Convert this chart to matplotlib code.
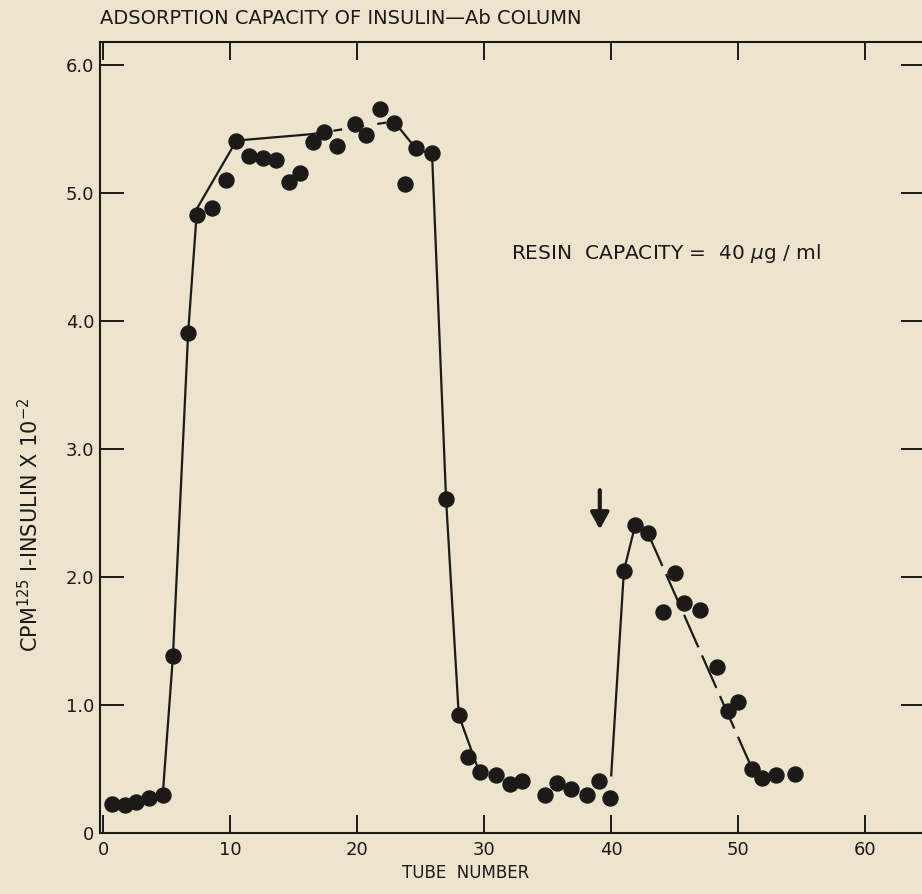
import numpy as np
import matplotlib
matplotlib.use("Agg")
import matplotlib.pyplot as plt

# tube number / cpm readings (x 10^-2)
tube = [0.7, 1.7, 2.6, 3.6, 4.7, 5.5, 6.7, 7.4, 8.55, 9.66,
        10.5, 11.5, 12.6, 13.6, 14.6, 15.5, 16.5, 17.4, 18.4, 19.8,
        20.7, 21.8, 22.9, 23.75, 24.6, 25.9, 27.0, 28.0, 28.7, 29.7,
        30.9, 32.0, 33.0, 34.8, 35.7, 36.8, 38.1, 39.0, 39.9, 41.0,
        41.9, 42.9, 44.1, 45.0, 45.7, 46.95, 48.3, 49.2, 50.0, 51.1,
        51.9, 53.0, 54.5]
cpm = [0.23, 0.22, 0.24, 0.27, 0.30, 1.38, 3.91, 4.83, 4.88, 5.10,
       5.41, 5.29, 5.27, 5.26, 5.09, 5.16, 5.40, 5.48, 5.37, 5.54,
       5.45, 5.66, 5.55, 5.07, 5.35, 5.31, 2.61, 0.92, 0.59, 0.48,
       0.45, 0.38, 0.41, 0.30, 0.39, 0.34, 0.30, 0.41, 0.27, 2.05,
       2.41, 2.34, 1.73, 2.03, 1.80, 1.74, 1.30, 0.95, 1.02, 0.50,
       0.43, 0.45, 0.46]

# hand drawn curves through the peaks
curve1_x = [4.7, 5.5, 6.7, 7.4, 10.5, 16.4]
curve1_y = [0.30, 1.38, 3.91, 4.88, 5.41, 5.46]
curve1_dash_x = [16.4, 22.9]
curve1_dash_y = [5.46, 5.56]
curve1b_x = [22.9, 24.6, 25.9, 27.0, 28.0, 29.6]
curve1b_y = [5.56, 5.35, 5.30, 2.61, 0.92, 0.48]
curve2_x = [40.0, 41.0, 41.9, 42.9]
curve2_y = [0.45, 2.05, 2.41, 2.34]
curve2b_x = [42.9, 51.1, 51.9]
curve2b_y = [2.34, 0.50, 0.43]

bg = "#ede4cd"
ink = "#1c1a18"

fig = plt.figure(figsize=(9.22, 8.94), dpi=100, facecolor=bg)
ax = fig.add_axes([100 / 922, 61 / 894, 825 / 922, 791 / 894])
ax.set_facecolor(bg)

ax.plot(curve1_x, curve1_y, color=ink, lw=1.6)
ax.plot(curve1_dash_x, curve1_dash_y, color=ink, lw=1.6, ls=(0, (4, 6)))
ax.plot(curve1b_x, curve1b_y, color=ink, lw=1.6)
ax.plot(curve2_x, curve2_y, color=ink, lw=1.6)
ax.plot(curve2b_x, curve2b_y, color=ink, lw=1.6, ls=(0, (16, 4)))
ax.plot(tube, cpm, "o", color=ink, ms=10.8, mec=ink)

ax.set_xlim(-0.24, 64.7)
ax.set_ylim(0, 6.18)

ax.set_xticks([0, 10, 20, 30, 40, 50, 60])
ax.set_xticklabels(["0", "10", "20", "30", "40", "50", "60"])
ax.set_yticks([0, 1, 2, 3, 4, 5, 6])
ax.set_yticklabels(["0", "1.0", "2.0", "3.0", "4.0", "5.0", "6.0"])
ax.tick_params(direction="in", length=14, width=1.4, color=ink,
               labelsize=13, labelcolor=ink, top=True, right=True,
               pad=6)
ax.tick_params(axis="x", which="major", top=True, length=13)
ax.tick_params(axis="y", pad=4, length=17)
for s in ax.spines.values():
    s.set_color(ink)
    s.set_linewidth(1.5)

ax.annotate("", xy=(39.1, 2.35), xytext=(39.1, 2.70),
            arrowprops=dict(arrowstyle="-|>,head_width=0.55,head_length=1.0",
                            color=ink, lw=3))

ax.text(32.1, 4.53, r"RESIN  CAPACITY =  40 $\mu$g / ml", fontsize=14.5,
        color=ink, va="center", ha="left")

fig.text(100 / 922, 1 - 19 / 894, "ADSORPTION CAPACITY OF INSULIN\u2014Ab COLUMN",
         fontsize=14, color=ink, va="center", ha="left")
fig.text(466 / 922, 1 - 873 / 894, "TUBE  NUMBER", fontsize=12, color=ink,
         va="center", ha="center")
fig.text(30 / 922, 1 - 525 / 894, r"CPM$^{125}$ I-INSULIN X 10$^{-2}$",
         fontsize=15, color=ink, va="center", ha="center", rotation=90)

fig.savefig("out.png", dpi=100, facecolor=bg)
